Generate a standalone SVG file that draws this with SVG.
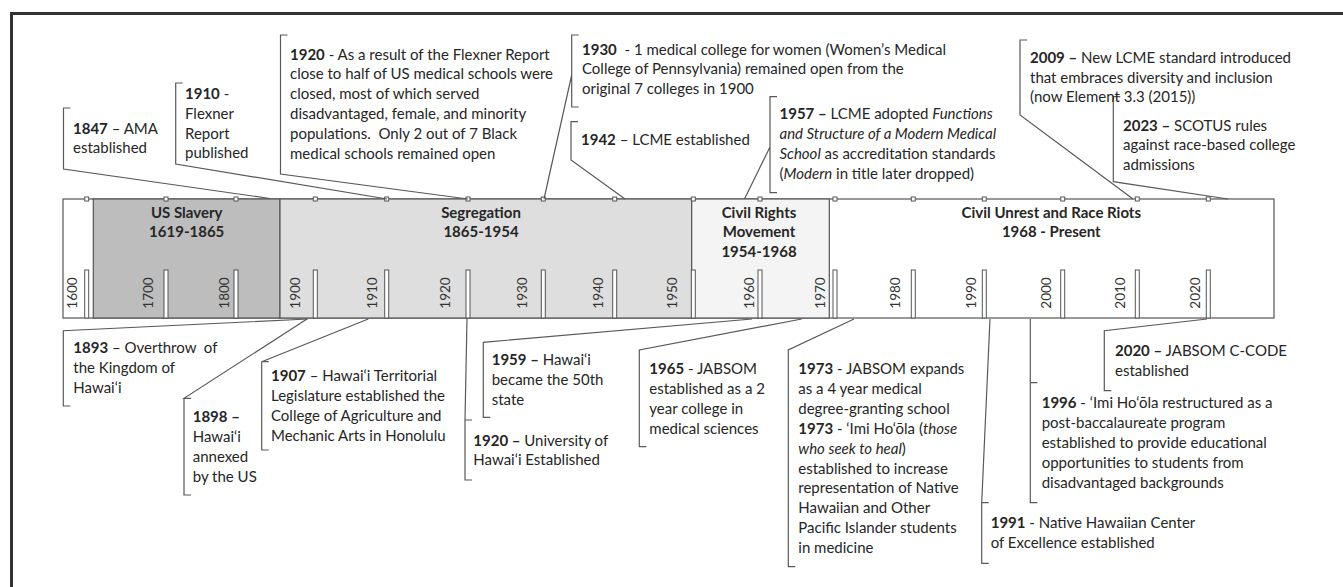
<svg xmlns="http://www.w3.org/2000/svg" width="1343" height="587" viewBox="0 0 1343 587">
<style>
.t{font-family:Lato,"Liberation Sans",sans-serif;font-size:15px;fill:#262626;white-space:pre}
.b{font-weight:700}
.i{font-style:italic}
.p{font-family:Lato,"Liberation Sans",sans-serif;font-size:15px;font-weight:700;fill:#262626;text-anchor:middle}
.y{font-family:Lato,"Liberation Sans",sans-serif;font-size:13.5px;fill:#333;text-anchor:middle;dominant-baseline:central}
.ln{fill:none;stroke:#595959;stroke-width:1.2}
.bar{stroke:#555;stroke-width:1.2}
.tk{fill:#fff;stroke:#555;stroke-width:1}
</style>
<rect width="1343" height="587" fill="#fff"/>
<path d="M11.5,600 V13.5 H1350" fill="none" stroke="#333" stroke-width="3"/>

<g id="timeline">
<rect class="bar" x="63" y="199" width="1211" height="119" fill="#fff"/>
<rect class="bar" x="93.3" y="199" width="186.7" height="119" fill="#bdbdbd"/>
<rect class="bar" x="280" y="199" width="411.7" height="119" fill="#dedede"/>
<rect class="bar" x="691.7" y="199" width="137.6" height="119" fill="#f4f4f4"/>
<g id="ticks">
<rect class="tk" x="84.7" y="270" width="4" height="48"/>
<rect class="tk" x="164" y="270" width="4" height="48"/>
<rect class="tk" x="234" y="270" width="4" height="48"/>
<rect class="tk" x="313.3" y="270" width="4" height="48"/>
<rect class="tk" x="384.7" y="270" width="4" height="48"/>
<rect class="tk" x="466" y="270" width="4" height="48"/>
<rect class="tk" x="541.3" y="270" width="4" height="48"/>
<rect class="tk" x="612.7" y="270" width="4" height="48"/>
<rect class="tk" x="691.3" y="270" width="4" height="48"/>
<rect class="tk" x="758" y="270" width="4" height="48"/>
<rect class="tk" x="833" y="270" width="4" height="48"/>
<rect class="tk" x="911.3" y="270" width="4" height="48"/>
<rect class="tk" x="982.3" y="270" width="4" height="48"/>
<rect class="tk" x="1060.7" y="270" width="4" height="48"/>
<rect class="tk" x="1135.3" y="270" width="4" height="48"/>
<rect class="tk" x="1206.3" y="270" width="4" height="48"/>
</g>
<g id="dots">
<rect class="tk" x="84.7" y="197" width="4" height="4"/>
<rect class="tk" x="164" y="197" width="4" height="4"/>
<rect class="tk" x="234" y="197" width="4" height="4"/>
<rect class="tk" x="313.3" y="197" width="4" height="4"/>
<rect class="tk" x="384.7" y="197" width="4" height="4"/>
<rect class="tk" x="466" y="197" width="4" height="4"/>
<rect class="tk" x="541.3" y="197" width="4" height="4"/>
<rect class="tk" x="612.7" y="197" width="4" height="4"/>
<rect class="tk" x="691.3" y="197" width="4" height="4"/>
<rect class="tk" x="758" y="197" width="4" height="4"/>
<rect class="tk" x="833" y="197" width="4" height="4"/>
<rect class="tk" x="911.3" y="197" width="4" height="4"/>
<rect class="tk" x="982.3" y="197" width="4" height="4"/>
<rect class="tk" x="1060.7" y="197" width="4" height="4"/>
<rect class="tk" x="1135.3" y="197" width="4" height="4"/>
<rect class="tk" x="1206.3" y="197" width="4" height="4"/>
</g>
<g id="years">
<text class="y" transform="translate(71.7,293) rotate(-90)">1600</text>
<text class="y" transform="translate(148.3,293) rotate(-90)">1700</text>
<text class="y" transform="translate(224.3,293) rotate(-90)">1800</text>
<text class="y" transform="translate(295,293) rotate(-90)">1900</text>
<text class="y" transform="translate(371.7,293) rotate(-90)">1910</text>
<text class="y" transform="translate(445,293) rotate(-90)">1920</text>
<text class="y" transform="translate(521.7,293) rotate(-90)">1930</text>
<text class="y" transform="translate(598.3,293) rotate(-90)">1940</text>
<text class="y" transform="translate(671.7,293) rotate(-90)">1950</text>
<text class="y" transform="translate(749.3,293) rotate(-90)">1960</text>
<text class="y" transform="translate(820,293) rotate(-90)">1970</text>
<text class="y" transform="translate(895,293) rotate(-90)">1980</text>
<text class="y" transform="translate(970.7,293) rotate(-90)">1990</text>
<text class="y" transform="translate(1045.7,293) rotate(-90)">2000</text>
<text class="y" transform="translate(1120,293) rotate(-90)">2010</text>
<text class="y" transform="translate(1195,293) rotate(-90)">2020</text>
</g>
</g>

<g id="period-slavery"><text class="p" x="186.7" y="217.5">US Slavery</text><text class="p" x="186.7" y="237.3">1619-1865</text></g>
<g id="period-segregation"><text class="p" x="481" y="217.5">Segregation</text><text class="p" x="481" y="237.3">1865-1954</text></g>
<g id="period-civilrights"><text class="p" x="759" y="217.5">Civil Rights</text><text class="p" x="759" y="237.3">Movement</text><text class="p" x="759" y="257.1">1954-1968</text></g>
<g id="period-unrest"><text class="p" x="1051.3" y="217.5">Civil Unrest and Race Riots</text><text class="p" x="1051.3" y="237.3">1968 - Present</text></g>

<g id="connectors">
<path class="ln" d="M70.5,108 H63.5 V169 L270,198.5"/>
<path class="ln" d="M182.7,83 H175.7 V164 L387,199"/>
<path class="ln" d="M287.5,35 H280.5 V174 L468,199"/>
<path class="ln" d="M578.7,35 H571.7 V107 H578.7 M571.7,75 L544,199"/>
<path class="ln" d="M578,121.7 H571 V160 L625,199"/>
<path class="ln" d="M777,96.7 H770 V192.7 H777 M770,147 L744.5,199"/>
<path class="ln" d="M1027,40 H1020 V115 L1133,199"/>
<path class="ln" d="M1120.3,96.7 H1113.3 V181.7 L1228,199"/>
<path class="ln" d="M308,319 L63.3,330.7 V406 H70.3"/>
<path class="ln" d="M307,319 L184,398.3 H191 M184,398.3 V495 H191"/>
<path class="ln" d="M368.3,319 L261.7,361.7 H268.7 M261.7,361.7 V450 H268.7"/>
<path class="ln" d="M467,319 L465,420 H472 M465,420 V480 H472"/>
<path class="ln" d="M752,319 L483.3,342.3 V417.3 H490.3"/>
<path class="ln" d="M801.7,319 L639.3,350 V446.7 H646.3"/>
<path class="ln" d="M854,319 L788.3,350 V566.7 H795.3"/>
<path class="ln" d="M990,319 L981.7,502.7 H988.7 M981.7,502.7 V563.3 H988.7"/>
<path class="ln" d="M1030.3,319 V502.7 H1037.3 M1030.3,382.7 H1037.3"/>
<path class="ln" d="M1207,319 L1104.3,330.7 V390.7 H1111.3"/>
</g>

<g id="c1847"><text class="t" x="73" y="134"><tspan class="b">1847</tspan> – AMA</text><text class="t" x="73" y="153">established</text></g>
<g id="c1910"><text class="t" x="185" y="99"><tspan class="b">1910</tspan> -</text><text class="t" x="185" y="118.8">Flexner</text><text class="t" x="185" y="138.6">Report</text><text class="t" x="185" y="158.4">published</text></g>
<g id="c1920"><text class="t" x="290" y="59.5"><tspan class="b">1920</tspan> - As a result of the Flexner Report</text><text class="t" x="290" y="79.4">close to half of US medical schools were</text><text class="t" x="290" y="99.2">closed, most of which served</text><text class="t" x="290" y="119">disadvantaged, female, and minority</text><text class="t" x="290" y="138.9">populations.  Only 2 out of 7 Black</text><text class="t" x="290" y="158.7">medical schools remained open</text></g>
<g id="c1930"><text class="t" x="582" y="54.5"><tspan class="b">1930</tspan>  - 1 medical college for women (Women’s Medical</text><text class="t" x="582" y="74.3">College of Pennsylvania) remained open from the</text><text class="t" x="582" y="94.1">original 7 colleges in 1900</text></g>
<g id="c1942"><text class="t" x="581" y="145"><tspan class="b">1942</tspan> – LCME established</text></g>
<g id="c1957"><text class="t" x="779.5" y="119.3"><tspan class="b">1957 –</tspan> LCME adopted <tspan class="i">Functions</tspan></text><text class="t i" x="779.5" y="139.1">and Structure of a Modern Medical</text><text class="t" x="779.5" y="158.9"><tspan class="i">School</tspan> as accreditation standards</text><text class="t" x="779.5" y="178.7">(<tspan class="i">Modern</tspan> in title later dropped)</text></g>
<g id="c2009"><text class="t" x="1030" y="63.3"><tspan class="b">2009 –</tspan> New LCME standard introduced</text><text class="t" x="1030" y="82.6">that embraces diversity and inclusion</text><text class="t" x="1030" y="101.9">(now Element 3.3 (2015))</text></g>
<g id="c2023"><text class="t" x="1123" y="130.5"><tspan class="b">2023 –</tspan> SCOTUS rules</text><text class="t" x="1123" y="150">against race-based college</text><text class="t" x="1123" y="169.5">admissions</text></g>

<g id="c1893"><text class="t" x="73.3" y="353.3"><tspan class="b">1893</tspan> – Overthrow  of</text><text class="t" x="73.3" y="373.3">the Kingdom of</text><text class="t" x="73.3" y="393.3">Hawai‘i</text></g>
<g id="c1898"><text class="t" x="192.7" y="421.7"><tspan class="b">1898 –</tspan></text><text class="t" x="192.7" y="441.7">Hawai‘i</text><text class="t" x="192.7" y="461.7">annexed</text><text class="t" x="192.7" y="481.7">by the US</text></g>
<g id="c1907"><text class="t" x="271" y="381"><tspan class="b">1907</tspan> – Hawai‘i Territorial</text><text class="t" x="271" y="401">Legislature established the</text><text class="t" x="271" y="421">College of Agriculture and</text><text class="t" x="271" y="441">Mechanic Arts in Honolulu</text></g>
<g id="c1920uh"><text class="t" x="473.3" y="445.5"><tspan class="b">1920 –</tspan> University of</text><text class="t" x="473.3" y="465.3">Hawai‘i Established</text></g>
<g id="c1959"><text class="t" x="491.7" y="365"><tspan class="b">1959 –</tspan> Hawai‘i</text><text class="t" x="491.7" y="384.8">became the 50th</text><text class="t" x="491.7" y="404.6">state</text></g>
<g id="c1965"><text class="t" x="649.3" y="374.3"><tspan class="b">1965</tspan> - JABSOM</text><text class="t" x="649.3" y="394.1">established as a 2</text><text class="t" x="649.3" y="413.9">year college in</text><text class="t" x="649.3" y="433.7">medical sciences</text></g>
<g id="c1973"><text class="t" x="798.3" y="374.3"><tspan class="b">1973</tspan> - JABSOM expands</text><text class="t" x="798.3" y="394.2">as a 4 year medical</text><text class="t" x="798.3" y="414">degree-granting school</text><text class="t" x="798.3" y="433.9"><tspan class="b">1973</tspan> - ‘Imi Ho‘ōla (<tspan class="i">those</tspan></text><text class="t" x="798.3" y="453.7"><tspan class="i">who seek to heal</tspan>)</text><text class="t" x="798.3" y="473.6">established to increase</text><text class="t" x="798.3" y="493.4">representation of Native</text><text class="t" x="798.3" y="513.3">Hawaiian and Other</text><text class="t" x="798.3" y="533.1">Pacific Islander students</text><text class="t" x="798.3" y="553">in medicine</text></g>
<g id="c1991"><text class="t" x="990.7" y="528.3"><tspan class="b">1991</tspan> - Native Hawaiian Center</text><text class="t" x="990.7" y="547.8">of Excellence established</text></g>
<g id="c1996"><text class="t" x="1041.7" y="407.7"><tspan class="b">1996</tspan> - ‘Imi Ho‘ōla restructured as a</text><text class="t" x="1041.7" y="427.7">post-baccalaureate program</text><text class="t" x="1041.7" y="447.7">established to provide educational</text><text class="t" x="1041.7" y="467.7">opportunities to students from</text><text class="t" x="1041.7" y="487.7">disadvantaged backgrounds</text></g>
<g id="c2020"><text class="t" x="1115" y="355.7"><tspan class="b">2020 –</tspan> JABSOM C-CODE</text><text class="t" x="1115" y="375.7">established</text></g>
</svg>
